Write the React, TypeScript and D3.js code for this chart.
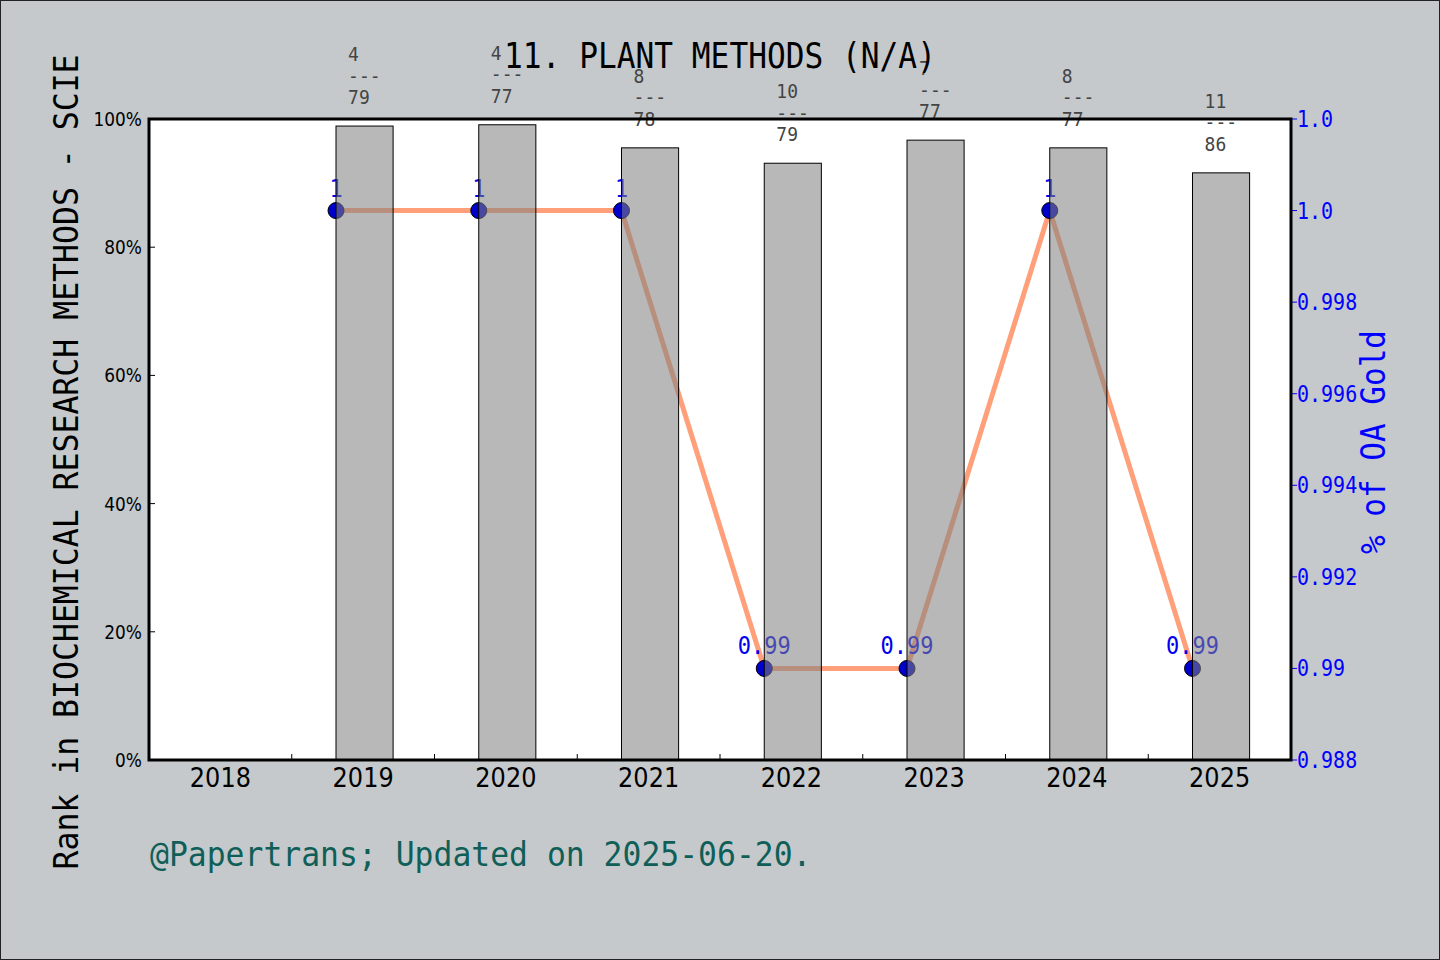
import React from "react";
import * as d3 from "d3";

const years = ["2018", "2019", "2020", "2021", "2022", "2023", "2024", "2025"];
const barYears = ["2019", "2020", "2021", "2022", "2023", "2024", "2025"];
const barValues = [98.9, 99.1, 95.5, 93.1, 96.7, 95.5, 91.6];
const rankNums = ["4", "4", "8", "10", "7", "8", "11"];
const rankTotals = ["79", "77", "78", "79", "77", "77", "86"];
const oaValues = [1, 1, 1, 0.99, 0.99, 1, 0.99];
const oaLabels = ["1", "1", "1", "0.99", "0.99", "1", "0.99"];
const leftTicks = [0, 20, 40, 60, 80, 100];
const rightTicks = [0.988, 0.99, 0.992, 0.994, 0.996, 0.998, 1.0, 1.002];
const rightTickLabels = ["0.988", "0.99", "0.992", "0.994", "0.996", "0.998", "1.0", "1.0"];

const W = 1440;
const H = 960;
const L = 149, R = 1291, T = 119, B = 760;
const MONO = "'DejaVu Sans Mono', 'Liberation Mono', monospace";
const SANS = "'DejaVu Sans', 'Noto Sans', sans-serif";

function Txt(props: {
  x: number; y: number; s: number; sy?: number; rot?: number; anchor?: string;
  fill?: string; font?: string; children: React.ReactNode; opacity?: number;
}) {
  const { x, y, s, sy = 1.12, rot = 0, anchor = "start", fill = "#000", font = MONO, opacity } = props;
  return (
    <text
      transform={`translate(${x},${y}) rotate(${rot}) scale(1,${sy})`}
      fontFamily={font}
      fontSize={s}
      textAnchor={anchor}
      fill={fill}
      opacity={opacity}
    >
      {props.children}
    </text>
  );
}

export default function App() {
  const x = d3.scaleBand<string>().domain(years).range([L, R]).padding(0);
  const bw = x.bandwidth();
  const yL = d3.scaleLinear().domain([0, 100]).range([B, T]);
  const yR = d3.scaleLinear().domain([0.988, 1.002]).range([B, T]);

  const barX = (yr: string) => (x(yr) as number) + bw * 0.31;
  const barW = bw * 0.4;

  const linePts: [number, number][] = barYears.map((yr, i) => [barX(yr), yR(oaValues[i])]);
  const lineGen = d3.line();
  const boundaries = years.slice(1).map((yr) => x(yr) as number);

  return (
    <div style={{ position: "fixed", left: 0, top: 0 }}>
      <svg width={W} height={H} style={{ display: "block" }}>
        <rect x={0} y={0} width={W} height={H} fill="#c5c9cc" />
        <rect x={0.5} y={0.5} width={W - 1} height={H - 1} fill="none" stroke="#222" strokeWidth={1} />
        <rect x={L} y={T} width={R - L} height={B - T} fill="#ffffff" />

        {/* OA line */}
        <path d={lineGen(linePts) || ""} fill="none" stroke="#ffa07a" strokeWidth={5} strokeLinejoin="round" />
        {linePts.map((p, i) => (
          <circle key={"c" + i} cx={p[0]} cy={p[1]} r={8} fill="#0000cc" stroke="#000" strokeWidth={1} />
        ))}
        {linePts.map((p, i) => (
          <Txt key={"l" + i} x={p[0]} y={p[1] - 14} s={22} anchor="middle" fill="#0000ee">
            {oaLabels[i]}
          </Txt>
        ))}

        {/* bars */}
        {barYears.map((yr, i) => (
          <rect
            key={"b" + i}
            x={barX(yr)}
            y={yL(barValues[i])}
            width={barW}
            height={B - yL(barValues[i])}
            fill="#808080"
            fillOpacity={0.56}
            stroke="#000"
            strokeWidth={1}
          />
        ))}

        {/* rank annotations */}
        {barYears.map((yr, i) => {
          const cx = barX(yr) + barW / 2;
          const top = yL(barValues[i]);
          const lx = cx - 16.5;
          return (
            <g key={"a" + i}>
              <Txt x={lx} y={top - 65} s={18} fill="#444">{rankNums[i]}</Txt>
              <Txt x={lx} y={top - 43.5} s={18} fill="#444">---</Txt>
              <Txt x={lx} y={top - 22} s={18} fill="#444">{rankTotals[i]}</Txt>
            </g>
          );
        })}

        {/* left ticks */}
        {leftTicks.map((t) => (
          <g key={"lt" + t}>
            <line x1={L} x2={L + 6} y1={yL(t)} y2={yL(t)} stroke="#000" strokeWidth={1} />
            <Txt x={L - 7} y={yL(t) + 7} s={17} font={SANS} anchor="end">{t + "%"}</Txt>
          </g>
        ))}

        {/* bottom minor ticks */}
        {boundaries.map((bx, i) => (
          <line key={"bt" + i} x1={bx} x2={bx} y1={B} y2={B - 6} stroke="#000" strokeWidth={1} />
        ))}
        {years.map((yr) => (
          <Txt key={"xt" + yr} x={(x(yr) as number) + bw / 2} y={787} s={24} font={SANS} anchor="middle">
            {yr}
          </Txt>
        ))}

        {/* right ticks */}
        {rightTicks.map((t, i) => (
          <g key={"rt" + i}>
            <line x1={R} x2={R + 6} y1={yR(t)} y2={yR(t)} stroke="#0000ff" strokeWidth={1} />
            <Txt x={R + 6} y={yR(t) + 8} s={20} sy={1.17} fill="#0000ff">{rightTickLabels[i]}</Txt>
          </g>
        ))}

        {/* spines */}
        <rect x={L} y={T} width={R - L} height={B - T} fill="none" stroke="#000" strokeWidth={3} />

        {/* titles */}
        <Txt x={720} y={68} s={31.2} sy={1.12} anchor="middle">11. PLANT METHODS (N/A)</Txt>
        <Txt x={78} y={462} s={31.5} sy={1.05} rot={-90} anchor="middle">
          Rank in BIOCHEMICAL RESEARCH METHODS - SCIE
        </Txt>
        <Txt x={1385} y={442} s={31} sy={1.1} rot={-90} anchor="middle" fill="#0000ff">
          % of OA Gold
        </Txt>
        <Txt x={150} y={866} s={31.4} sy={1.1} fill="#0f5f58">@Papertrans; Updated on 2025-06-20.</Txt>
      </svg>
    </div>
  );
}
